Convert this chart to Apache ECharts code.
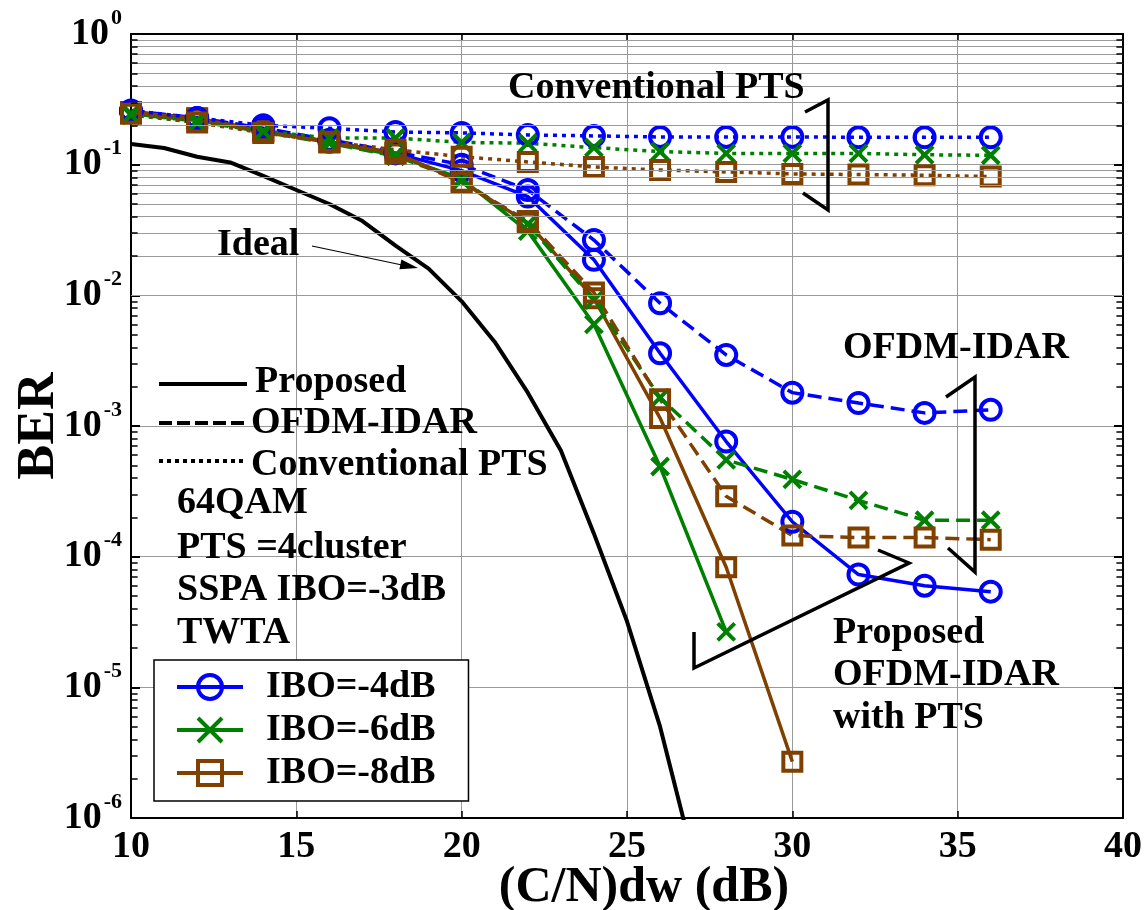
<!DOCTYPE html>
<html>
<head>
<meta charset="utf-8">
<script src="https://cdn.jsdelivr.net/npm/echarts@6.0.0/dist/echarts.min.js"></script>
<style>
html, body { margin: 0; padding: 0; background: #ffffff; }
#chart { width: 1145px; height: 910px; }
</style>
</head>
<body>
<div id="chart"></div>
<script>
// (C/N)dw sample points in dB
const cnDb = [10, 12, 14, 16, 18, 20, 22, 24, 26, 28, 30, 32, 34, 36];

// Ideal (no nonlinearity) reference curve
const idealDb  = [10, 11, 12, 13, 14, 15, 16, 17, 18, 19, 20, 21, 22, 23, 24, 25, 26, 27];
const idealBer = [0.144, 0.134, 0.115, 0.104, 0.082, 0.064, 0.050, 0.037, 0.024, 0.016,
                  0.0090, 0.0044, 0.0018, 6.5e-4, 1.5e-4, 3.2e-5, 5.0e-6, 5.0e-7];

// Proposed OFDM-IDAR with PTS (solid)
const propIbo4 = [0.255, 0.225, 0.183, 0.150, 0.122, 0.090, 0.057, 0.0187, 0.0036, 7.6e-4, 1.85e-4, 7.3e-5, 6.0e-5, 5.4e-5];
const propIbo6 = [0.245, 0.218, 0.180, 0.148, 0.118, 0.078, 0.031, 0.0060, 4.9e-4, 2.66e-5];
const propIbo8 = [0.253, 0.227, 0.181, 0.149, 0.123, 0.074, 0.036, 0.0095, 1.15e-3, 8.3e-5, 2.7e-6];

// OFDM-IDAR (dashed)
const idarIbo4 = [0.258, 0.228, 0.190, 0.155, 0.125, 0.100, 0.064, 0.0265, 0.0087, 0.0035, 0.0018, 0.0015, 0.00126, 0.00133];
const idarIbo6 = [0.245, 0.215, 0.178, 0.146, 0.116, 0.076, 0.035, 0.0092, 0.00165, 5.5e-4, 3.9e-4, 2.7e-4, 1.9e-4, 1.9e-4];
const idarIbo8 = [0.252, 0.226, 0.180, 0.148, 0.122, 0.073, 0.037, 0.0105, 0.0016, 2.9e-4, 1.45e-4, 1.4e-4, 1.4e-4, 1.35e-4];

// Conventional PTS (dotted)
const ptsIbo4 = [0.260, 0.228, 0.200, 0.190, 0.178, 0.175, 0.169, 0.166, 0.163, 0.163, 0.163, 0.162, 0.162, 0.162];
const ptsIbo6 = [0.240, 0.210, 0.180, 0.160, 0.160, 0.148, 0.146, 0.135, 0.126, 0.122, 0.122, 0.122, 0.119, 0.118];
const ptsIbo8 = [0.245, 0.210, 0.175, 0.150, 0.130, 0.115, 0.105, 0.096, 0.091, 0.088, 0.085, 0.084, 0.083, 0.081];

const xTicks = [10, 15, 20, 25, 30, 35, 40];
const legendNames = ['IBO=-4dB', 'IBO=-6dB', 'IBO=-8dB'];

const FONT = '"Liberation Serif", "Times New Roman", serif';
const BLUE = '#0000ff', GREEN = '#008000', BROWN = '#804000';
const CLEAR = 'rgba(0,0,0,0)';
const CROSS = 'path://M0,0L20,20M20,0L0,20';

function pairs(xs, ys) {
  return ys.map((y, i) => [xs[i], y]);
}

function curve(name, values, color, dash, symbol, size) {
  return {
    name: name,
    type: 'line',
    data: pairs(cnDb, values),
    symbol: symbol,
    symbolSize: size,
    showAllSymbol: true,
    lineStyle: { color: color, width: 3.5, type: dash },
    itemStyle: { color: CLEAR, borderColor: color, borderWidth: 4 },
    emphasis: { disabled: true },
    z: 3
  };
}

// decade subdivisions 2..9 for the log grid
const minorLevels = [];
for (let e = -6; e < 0; e++) {
  for (let m = 2; m <= 9; m++) minorLevels.push(m * Math.pow(10, e));
}
const minorGrid = minorLevels.map(v => ({ yAxis: v }));
const minorTicks = [];
minorLevels.forEach(v => {
  minorTicks.push([{ coord: [10, v] }, { coord: [10.2, v] }]);
  minorTicks.push([{ coord: [39.8, v] }, { coord: [40, v] }]);
});

const series = [
  {
    name: 'Ideal',
    type: 'line',
    data: pairs(idealDb, idealBer),
    symbol: 'none',
    lineStyle: { color: '#000', width: 4 },
    emphasis: { disabled: true },
    z: 2,
    markLine: {
      silent: true,
      symbol: 'none',
      animation: false,
      label: { show: false },
      lineStyle: { color: '#9a9a9a', width: 1, type: 'solid' },
      data: minorGrid
    }
  },
  {
    name: 'ticks',
    type: 'line',
    data: [],
    markLine: {
      silent: true,
      symbol: 'none',
      animation: false,
      label: { show: false },
      lineStyle: { color: '#000', width: 1.5, type: 'solid' },
      data: minorTicks
    }
  },
  curve('IBO=-4dB', propIbo4, BLUE, 'solid', 'circle', 20),
  curve('IBO=-6dB', propIbo6, GREEN, 'solid', CROSS, 17),
  curve('IBO=-8dB', propIbo8, BROWN, 'solid', 'rect', 18),
  curve('IDAR -4dB', idarIbo4, BLUE, [14, 7], 'circle', 20),
  curve('IDAR -6dB', idarIbo6, GREEN, [14, 7], CROSS, 17),
  curve('IDAR -8dB', idarIbo8, BROWN, [14, 7], 'rect', 18),
  curve('PTS -4dB', ptsIbo4, BLUE, [4, 5], 'circle', 20),
  curve('PTS -6dB', ptsIbo6, GREEN, [4, 5], CROSS, 17),
  curve('PTS -8dB', ptsIbo8, BROWN, [4, 5], 'rect', 18)
];

function txt(x, y, s) {
  return {
    type: 'text', x: x, y: y, z: 50,
    style: { text: s, font: 'bold 38px ' + FONT, fill: '#000', textAlign: 'left', textVerticalAlign: 'middle' }
  };
}
function poly(points, width) {
  return { type: 'polyline', z: 50, shape: { points: points }, style: { stroke: '#000', lineWidth: width, fill: null } };
}
function seg(x1, y1, x2, y2, width, dash) {
  return { type: 'line', z: 50, shape: { x1: x1, y1: y1, x2: x2, y2: y2 },
           style: { stroke: '#000', lineWidth: width, lineDash: dash || null } };
}

const graphics = [
  txt(508, 88, 'Conventional PTS'),
  poly([[805, 112], [828, 100], [828, 210], [803, 193]], 3.5),
  txt(217, 245, 'Ideal'),
  seg(312, 246, 402, 265, 1.2),
  { type: 'polygon', z: 50, shape: { points: [[418, 268], [401.4, 259.4], [399.4, 269.2]] }, style: { fill: '#000' } },
  txt(843, 348, 'OFDM-IDAR'),
  poly([[946, 397], [975, 377], [975, 572], [948, 548]], 3.5),
  txt(833, 633, 'Proposed'),
  txt(833, 675, 'OFDM-IDAR'),
  txt(833, 718, 'with PTS'),
  poly([[878, 550], [909, 563], [694, 668], [694, 632]], 3.5),
  seg(159, 384, 247, 384, 4),
  txt(255, 382, 'Proposed'),
  seg(159, 423, 247, 423, 4, [13, 5]),
  txt(251, 423, 'OFDM-IDAR'),
  seg(159, 461, 247, 461, 4, [4, 4]),
  txt(251, 465, 'Conventional PTS'),
  txt(177, 503, '64QAM'),
  txt(177, 548, 'PTS =4cluster'),
  txt(177, 590, 'SSPA IBO=-3dB'),
  txt(177, 633, 'TWTA')
];

const axisLineStyle = { color: '#000', width: 2 };
const gridLine = { show: true, lineStyle: { color: '#9a9a9a', width: 1, type: 'solid' } };

const chart = echarts.init(document.getElementById('chart'), null, { renderer: 'canvas' });
chart.setOption({
  animation: false,
  backgroundColor: '#ffffff',
  grid: { left: 131, right: 22, top: 34, bottom: 92, containLabel: false, outerBoundsMode: 'none' },
  xAxis: [
    {
      type: 'value', min: xTicks[0], max: xTicks[xTicks.length - 1], interval: 5,
      name: '(C/N)dw (dB)', nameLocation: 'middle', nameGap: 45, nameMoveOverlap: false,
      nameTextStyle: { fontFamily: FONT, fontWeight: 'bold', fontSize: 50, color: '#000', padding: [0, 0, 0, 34] },
      axisLine: { show: true, lineStyle: axisLineStyle },
      axisTick: { show: true, inside: true, length: 7, lineStyle: { color: '#000', width: 1.5 } },
      axisLabel: { fontFamily: FONT, fontWeight: 'bold', fontSize: 38, color: '#000', margin: 10 },
      splitLine: gridLine
    },
    {
      type: 'value', position: 'top', min: xTicks[0], max: xTicks[xTicks.length - 1], interval: 5,
      axisLine: { show: true, lineStyle: axisLineStyle },
      axisTick: { show: true, inside: true, length: 7, lineStyle: { color: '#000', width: 1.5 } },
      axisLabel: { show: false },
      splitLine: { show: false }
    }
  ],
  yAxis: [
    {
      type: 'log', logBase: 10, min: 1e-6, max: 1, splitNumber: 6,
      name: 'BER', nameLocation: 'middle', nameGap: 65, nameRotate: 90, nameMoveOverlap: false,
      nameTextStyle: { fontFamily: FONT, fontWeight: 'bold', fontSize: 52, color: '#000' },
      axisLine: { show: true, lineStyle: axisLineStyle },
      axisTick: { show: true, inside: true, length: 9, lineStyle: { color: '#000', width: 2 } },
      axisLabel: {
        margin: 9,
        formatter: v => '{b|10}{s|' + Math.round(Math.log10(v)) + '}',
        rich: {
          b: { fontFamily: FONT, fontWeight: 'bold', fontSize: 38, color: '#000' },
          s: { fontFamily: FONT, fontWeight: 'bold', fontSize: 22, color: '#000', padding: [0, 0, 32, 2] }
        }
      },
      splitLine: gridLine
    },
    {
      type: 'log', logBase: 10, min: 1e-6, max: 1, splitNumber: 6, position: 'right',
      axisLine: { show: true, lineStyle: axisLineStyle },
      axisTick: { show: true, inside: true, length: 9, lineStyle: { color: '#000', width: 2 } },
      axisLabel: { show: false },
      splitLine: { show: false }
    }
  ],
  legend: {
    data: legendNames,
    orient: 'vertical',
    left: 154, top: 660,
    padding: [8, 33, 9, 21],
    itemGap: 5,
    itemWidth: 66,
    itemHeight: 30,
    selectedMode: false,
    backgroundColor: '#ffffff',
    borderColor: '#000',
    borderWidth: 1.5,
    itemStyle: { borderWidth: 4 },
    lineStyle: { width: 4 },
    textStyle: { fontFamily: FONT, fontWeight: 'bold', fontSize: 38, color: '#000', lineHeight: 38, padding: [0, 0, 0, 18] },
    z: 40
  },
  graphic: graphics,
  series: series
});
</script>
</body>
</html>
